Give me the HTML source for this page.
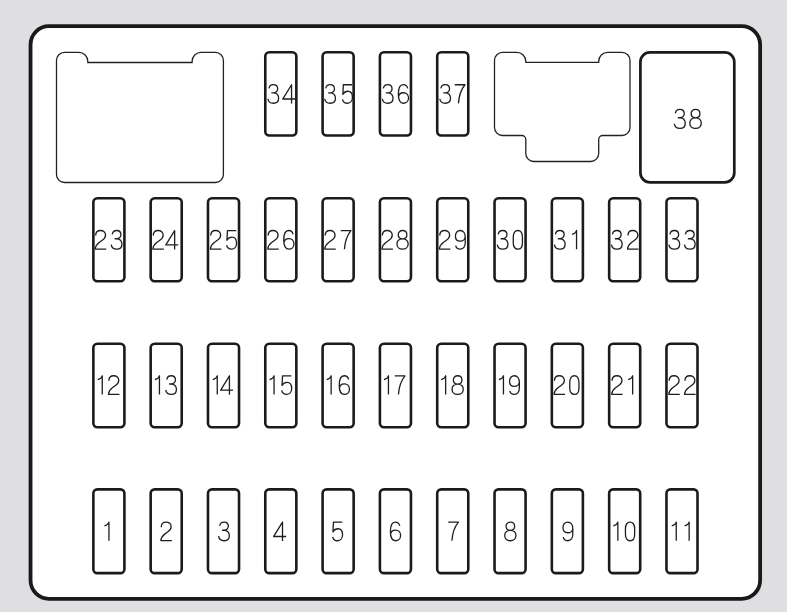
<!DOCTYPE html>
<html><head><meta charset="utf-8"><title>Fuse box</title>
<style>
html,body{margin:0;padding:0;background:#dfdfe1;width:787px;height:612px;overflow:hidden}
svg{display:block}
</style></head>
<body>
<svg width="787" height="612" viewBox="0 0 787 612" role="img" aria-label="Interior fuse box diagram, fuses 1 to 38">
<rect x="30.54" y="26.2" width="729.59" height="572.67" rx="18.5" ry="18.5" fill="#fff" stroke="#1b1a1a" stroke-width="3.8"/>
<g fill="none" stroke="#1e1e1e" stroke-width="1.3" stroke-linejoin="round">
<g aria-label="1"><title>1</title><path transform="translate(108.95 522.08) scale(1.000 1.035)" d="M-4.5 3.7C-2.4 3.1-0.4 1.9 0 0L0 18"/></g>
<g aria-label="12"><title>12</title><path transform="translate(102.25 375.79) scale(1.000 1.035)" d="M-4.5 3.7C-2.4 3.1-0.4 1.9 0 0L0 18"/><path transform="translate(113.85 375.79) scale(1.000 1.035)" d="M-5.0 4.9C-5.0 1.8-2.8 0-0.1 0C2.7 0 4.9 1.8 4.9 4.5C4.9 6.6 3.6 8.0 1.6 9.4L-1.5 11.6C-3.8 13.3-5.2 15.2-5.4 17.9L5.6 17.9"/></g>
<g aria-label="23"><title>23</title><path transform="translate(100.65 230.53) scale(1.000 1.035)" d="M-5.0 4.9C-5.0 1.8-2.8 0-0.1 0C2.7 0 4.9 1.8 4.9 4.5C4.9 6.6 3.6 8.0 1.6 9.4L-1.5 11.6C-3.8 13.3-5.2 15.2-5.4 17.9L5.6 17.9"/><path transform="translate(116.85 230.53) scale(1.000 1.035)" d="M-4.6 3.7C-4.2 1.2-2.4 0-0.1 0C2.4 0 4.1 1.6 4.1 3.9C4.1 6.3 2.3 7.9-0.2 7.9L-2.2 7.9M-0.2 7.9C3.0 7.9 5.1 10.0 5.1 13.0C5.1 16.2 2.8 18-0.1 18C-3.0 18-5.3 16.4-5.6 13.6"/></g>
<g aria-label="2"><title>2</title><path transform="translate(166.25 522.08) scale(1.000 1.035)" d="M-5.0 4.9C-5.0 1.8-2.8 0-0.1 0C2.7 0 4.9 1.8 4.9 4.5C4.9 6.6 3.6 8.0 1.6 9.4L-1.5 11.6C-3.8 13.3-5.2 15.2-5.4 17.9L5.6 17.9"/></g>
<g aria-label="13"><title>13</title><path transform="translate(159.45 375.79) scale(1.000 1.035)" d="M-4.5 3.7C-2.4 3.1-0.4 1.9 0 0L0 18"/><path transform="translate(171.35 375.79) scale(1.000 1.035)" d="M-4.6 3.7C-4.2 1.2-2.4 0-0.1 0C2.4 0 4.1 1.6 4.1 3.9C4.1 6.3 2.3 7.9-0.2 7.9L-2.2 7.9M-0.2 7.9C3.0 7.9 5.1 10.0 5.1 13.0C5.1 16.2 2.8 18-0.1 18C-3.0 18-5.3 16.4-5.6 13.6"/></g>
<g aria-label="24"><title>24</title><path transform="translate(158.25 230.53) scale(1.000 1.035)" d="M-5.0 4.9C-5.0 1.8-2.8 0-0.1 0C2.7 0 4.9 1.8 4.9 4.5C4.9 6.6 3.6 8.0 1.6 9.4L-1.5 11.6C-3.8 13.3-5.2 15.2-5.4 17.9L5.6 17.9"/><path transform="translate(172.05 230.53) scale(1.000 1.035)" d="M6.2 13.9L-6.2 13.9L2.6 0.1L2.6 18.3"/></g>
<g aria-label="3"><title>3</title><path transform="translate(224.25 522.08) scale(1.000 1.035)" d="M-4.6 3.7C-4.2 1.2-2.4 0-0.1 0C2.4 0 4.1 1.6 4.1 3.9C4.1 6.3 2.3 7.9-0.2 7.9L-2.2 7.9M-0.2 7.9C3.0 7.9 5.1 10.0 5.1 13.0C5.1 16.2 2.8 18-0.1 18C-3.0 18-5.3 16.4-5.6 13.6"/></g>
<g aria-label="14"><title>14</title><path transform="translate(217.25 375.79) scale(1.000 1.035)" d="M-4.5 3.7C-2.4 3.1-0.4 1.9 0 0L0 18"/><path transform="translate(226.85 375.79) scale(1.000 1.035)" d="M6.2 13.9L-6.2 13.9L2.6 0.1L2.6 18.3"/></g>
<g aria-label="25"><title>25</title><path transform="translate(215.75 230.53) scale(1.000 1.035)" d="M-5.0 4.9C-5.0 1.8-2.8 0-0.1 0C2.7 0 4.9 1.8 4.9 4.5C4.9 6.6 3.6 8.0 1.6 9.4L-1.5 11.6C-3.8 13.3-5.2 15.2-5.4 17.9L5.6 17.9"/><path transform="translate(231.55 230.53) scale(1.000 1.035)" d="M4.7 0.1L-4.1 0.1L-4.6 9.4C-3.5 7.5-1.7 6.4 0.4 6.4C3.2 6.4 5.0 8.8 5.0 12.2C5.0 15.8 2.8 18 0 18C-2.6 18-4.5 16.5-4.9 14.2"/></g>
<g aria-label="4"><title>4</title><path transform="translate(279.90 522.08) scale(1.000 1.035)" d="M6.2 13.9L-6.2 13.9L2.6 0.1L2.6 18.3"/></g>
<g aria-label="15"><title>15</title><path transform="translate(274.05 375.79) scale(1.000 1.035)" d="M-4.5 3.7C-2.4 3.1-0.4 1.9 0 0L0 18"/><path transform="translate(286.65 375.79) scale(1.000 1.035)" d="M4.7 0.1L-4.1 0.1L-4.6 9.4C-3.5 7.5-1.7 6.4 0.4 6.4C3.2 6.4 5.0 8.8 5.0 12.2C5.0 15.8 2.8 18 0 18C-2.6 18-4.5 16.5-4.9 14.2"/></g>
<g aria-label="26"><title>26</title><path transform="translate(273.15 230.53) scale(1.000 1.035)" d="M-5.0 4.9C-5.0 1.8-2.8 0-0.1 0C2.7 0 4.9 1.8 4.9 4.5C4.9 6.6 3.6 8.0 1.6 9.4L-1.5 11.6C-3.8 13.3-5.2 15.2-5.4 17.9L5.6 17.9"/><path transform="translate(288.75 230.53) scale(1.000 1.035)" d="M4.4 3.6C3.8 1.4 2.2 0-0.1 0C-3.4 0-5.0 3.6-5.0 9.4C-5.0 15.0-3.0 18 0 18C2.9 18 5.2 15.9 5.2 12.9C5.2 9.8 3.0 7.8 0.2 7.8C-2.6 7.8-4.9 9.6-4.9 12.8"/></g>
<g aria-label="5"><title>5</title><path transform="translate(337.55 522.08) scale(1.000 1.035)" d="M4.7 0.1L-4.1 0.1L-4.6 9.4C-3.5 7.5-1.7 6.4 0.4 6.4C3.2 6.4 5.0 8.8 5.0 12.2C5.0 15.8 2.8 18 0 18C-2.6 18-4.5 16.5-4.9 14.2"/></g>
<g aria-label="16"><title>16</title><path transform="translate(331.15 375.79) scale(1.000 1.035)" d="M-4.5 3.7C-2.4 3.1-0.4 1.9 0 0L0 18"/><path transform="translate(344.25 375.79) scale(1.000 1.035)" d="M4.4 3.6C3.8 1.4 2.2 0-0.1 0C-3.4 0-5.0 3.6-5.0 9.4C-5.0 15.0-3.0 18 0 18C2.9 18 5.2 15.9 5.2 12.9C5.2 9.8 3.0 7.8 0.2 7.8C-2.6 7.8-4.9 9.6-4.9 12.8"/></g>
<g aria-label="27"><title>27</title><path transform="translate(330.15 230.53) scale(1.000 1.035)" d="M-5.0 4.9C-5.0 1.8-2.8 0-0.1 0C2.7 0 4.9 1.8 4.9 4.5C4.9 6.6 3.6 8.0 1.6 9.4L-1.5 11.6C-3.8 13.3-5.2 15.2-5.4 17.9L5.6 17.9"/><path transform="translate(345.75 230.53) scale(1.000 1.035)" d="M-5.0 0.1L5.2 0.1C1.5 4.5-0.8 10.5-1.3 18.1"/></g>
<g aria-label="6"><title>6</title><path transform="translate(395.40 522.08) scale(1.000 1.035)" d="M4.4 3.6C3.8 1.4 2.2 0-0.1 0C-3.4 0-5.0 3.6-5.0 9.4C-5.0 15.0-3.0 18 0 18C2.9 18 5.2 15.9 5.2 12.9C5.2 9.8 3.0 7.8 0.2 7.8C-2.6 7.8-4.9 9.6-4.9 12.8"/></g>
<g aria-label="17"><title>17</title><path transform="translate(388.45 375.79) scale(1.000 1.035)" d="M-4.5 3.7C-2.4 3.1-0.4 1.9 0 0L0 18"/><path transform="translate(399.75 375.79) scale(1.000 1.035)" d="M-5.0 0.1L5.2 0.1C1.5 4.5-0.8 10.5-1.3 18.1"/></g>
<g aria-label="28"><title>28</title><path transform="translate(387.35 230.53) scale(1.000 1.035)" d="M-5.0 4.9C-5.0 1.8-2.8 0-0.1 0C2.7 0 4.9 1.8 4.9 4.5C4.9 6.6 3.6 8.0 1.6 9.4L-1.5 11.6C-3.8 13.3-5.2 15.2-5.4 17.9L5.6 17.9"/><path transform="translate(402.55 230.53) scale(1.000 1.035)" d="M0 0C2.5 0 4.3 1.7 4.3 4.0C4.3 6.4 2.5 8.0 0 8.0C-2.5 8.0-4.3 6.4-4.3 4.0C-4.3 1.7-2.5 0 0 0ZM0 8.0C3.4 8.0 5.6 10.2 5.6 13.0C5.6 16.0 3.3 18 0 18C-3.3 18-5.6 16.0-5.6 13.0C-5.6 10.2-3.4 8.0 0 8.0Z"/></g>
<g aria-label="7"><title>7</title><path transform="translate(453.20 522.08) scale(1.000 1.035)" d="M-5.0 0.1L5.2 0.1C1.5 4.5-0.8 10.5-1.3 18.1"/></g>
<g aria-label="18"><title>18</title><path transform="translate(445.65 375.79) scale(1.000 1.035)" d="M-4.5 3.7C-2.4 3.1-0.4 1.9 0 0L0 18"/><path transform="translate(457.65 375.79) scale(1.000 1.035)" d="M0 0C2.5 0 4.3 1.7 4.3 4.0C4.3 6.4 2.5 8.0 0 8.0C-2.5 8.0-4.3 6.4-4.3 4.0C-4.3 1.7-2.5 0 0 0ZM0 8.0C3.4 8.0 5.6 10.2 5.6 13.0C5.6 16.0 3.3 18 0 18C-3.3 18-5.6 16.0-5.6 13.0C-5.6 10.2-3.4 8.0 0 8.0Z"/></g>
<g aria-label="29"><title>29</title><path transform="translate(444.75 230.53) scale(1.000 1.035)" d="M-5.0 4.9C-5.0 1.8-2.8 0-0.1 0C2.7 0 4.9 1.8 4.9 4.5C4.9 6.6 3.6 8.0 1.6 9.4L-1.5 11.6C-3.8 13.3-5.2 15.2-5.4 17.9L5.6 17.9"/><path transform="translate(460.35 230.53) scale(1.000 1.035)" d="M4.9 5.6C4.9 8.4 2.7 10.3-0.1 10.3C-2.9 10.3-4.9 8.3-4.9 5.2C-4.9 2.1-2.9 0-0.1 0C3.0 0 4.9 2.4 4.9 6.5L4.9 11.6C4.9 15.6 3.0 18-0.2 18C-2.5 18-4.2 16.8-4.7 14.6"/></g>
<g aria-label="8"><title>8</title><path transform="translate(510.35 522.08) scale(1.000 1.035)" d="M0 0C2.5 0 4.3 1.7 4.3 4.0C4.3 6.4 2.5 8.0 0 8.0C-2.5 8.0-4.3 6.4-4.3 4.0C-4.3 1.7-2.5 0 0 0ZM0 8.0C3.4 8.0 5.6 10.2 5.6 13.0C5.6 16.0 3.3 18 0 18C-3.3 18-5.6 16.0-5.6 13.0C-5.6 10.2-3.4 8.0 0 8.0Z"/></g>
<g aria-label="19"><title>19</title><path transform="translate(503.45 375.79) scale(1.000 1.035)" d="M-4.5 3.7C-2.4 3.1-0.4 1.9 0 0L0 18"/><path transform="translate(514.45 375.79) scale(1.000 1.035)" d="M4.9 5.6C4.9 8.4 2.7 10.3-0.1 10.3C-2.9 10.3-4.9 8.3-4.9 5.2C-4.9 2.1-2.9 0-0.1 0C3.0 0 4.9 2.4 4.9 6.5L4.9 11.6C4.9 15.6 3.0 18-0.2 18C-2.5 18-4.2 16.8-4.7 14.6"/></g>
<g aria-label="30"><title>30</title><path transform="translate(502.85 230.53) scale(1.000 1.035)" d="M-4.6 3.7C-4.2 1.2-2.4 0-0.1 0C2.4 0 4.1 1.6 4.1 3.9C4.1 6.3 2.3 7.9-0.2 7.9L-2.2 7.9M-0.2 7.9C3.0 7.9 5.1 10.0 5.1 13.0C5.1 16.2 2.8 18-0.1 18C-3.0 18-5.3 16.4-5.6 13.6"/><path transform="translate(517.85 230.53) scale(1.000 1.035)" d="M-4.6 6.3C-4.6 2.2-2.7 0 0 0C2.7 0 4.6 2.2 4.6 6.3L4.6 11.7C4.6 15.8 2.7 18 0 18C-2.7 18-4.6 15.8-4.6 11.7Z"/></g>
<g aria-label="9"><title>9</title><path transform="translate(567.90 522.08) scale(1.000 1.035)" d="M4.9 5.6C4.9 8.4 2.7 10.3-0.1 10.3C-2.9 10.3-4.9 8.3-4.9 5.2C-4.9 2.1-2.9 0-0.1 0C3.0 0 4.9 2.4 4.9 6.5L4.9 11.6C4.9 15.6 3.0 18-0.2 18C-2.5 18-4.2 16.8-4.7 14.6"/></g>
<g aria-label="20"><title>20</title><path transform="translate(559.45 375.79) scale(1.000 1.035)" d="M-5.0 4.9C-5.0 1.8-2.8 0-0.1 0C2.7 0 4.9 1.8 4.9 4.5C4.9 6.6 3.6 8.0 1.6 9.4L-1.5 11.6C-3.8 13.3-5.2 15.2-5.4 17.9L5.6 17.9"/><path transform="translate(574.35 375.79) scale(1.000 1.035)" d="M-4.6 6.3C-4.6 2.2-2.7 0 0 0C2.7 0 4.6 2.2 4.6 6.3L4.6 11.7C4.6 15.8 2.7 18 0 18C-2.7 18-4.6 15.8-4.6 11.7Z"/></g>
<g aria-label="31"><title>31</title><path transform="translate(560.05 230.53) scale(1.000 1.035)" d="M-4.6 3.7C-4.2 1.2-2.4 0-0.1 0C2.4 0 4.1 1.6 4.1 3.9C4.1 6.3 2.3 7.9-0.2 7.9L-2.2 7.9M-0.2 7.9C3.0 7.9 5.1 10.0 5.1 13.0C5.1 16.2 2.8 18-0.1 18C-3.0 18-5.3 16.4-5.6 13.6"/><path transform="translate(576.55 230.53) scale(1.000 1.035)" d="M-4.5 3.7C-2.4 3.1-0.4 1.9 0 0L0 18"/></g>
<g aria-label="10"><title>10</title><path transform="translate(617.85 522.08) scale(1.000 1.035)" d="M-4.5 3.7C-2.4 3.1-0.4 1.9 0 0L0 18"/><path transform="translate(630.05 522.08) scale(1.000 1.035)" d="M-4.6 6.3C-4.6 2.2-2.7 0 0 0C2.7 0 4.6 2.2 4.6 6.3L4.6 11.7C4.6 15.8 2.7 18 0 18C-2.7 18-4.6 15.8-4.6 11.7Z"/></g>
<g aria-label="21"><title>21</title><path transform="translate(617.05 375.79) scale(1.000 1.035)" d="M-5.0 4.9C-5.0 1.8-2.8 0-0.1 0C2.7 0 4.9 1.8 4.9 4.5C4.9 6.6 3.6 8.0 1.6 9.4L-1.5 11.6C-3.8 13.3-5.2 15.2-5.4 17.9L5.6 17.9"/><path transform="translate(632.65 375.79) scale(1.000 1.035)" d="M-4.5 3.7C-2.4 3.1-0.4 1.9 0 0L0 18"/></g>
<g aria-label="32"><title>32</title><path transform="translate(617.05 230.53) scale(1.000 1.035)" d="M-4.6 3.7C-4.2 1.2-2.4 0-0.1 0C2.4 0 4.1 1.6 4.1 3.9C4.1 6.3 2.3 7.9-0.2 7.9L-2.2 7.9M-0.2 7.9C3.0 7.9 5.1 10.0 5.1 13.0C5.1 16.2 2.8 18-0.1 18C-3.0 18-5.3 16.4-5.6 13.6"/><path transform="translate(632.95 230.53) scale(1.000 1.035)" d="M-5.0 4.9C-5.0 1.8-2.8 0-0.1 0C2.7 0 4.9 1.8 4.9 4.5C4.9 6.6 3.6 8.0 1.6 9.4L-1.5 11.6C-3.8 13.3-5.2 15.2-5.4 17.9L5.6 17.9"/></g>
<g aria-label="11"><title>11</title><path transform="translate(676.25 522.08) scale(1.000 1.035)" d="M-4.5 3.7C-2.4 3.1-0.4 1.9 0 0L0 18"/><path transform="translate(689.15 522.08) scale(1.000 1.035)" d="M-4.5 3.7C-2.4 3.1-0.4 1.9 0 0L0 18"/></g>
<g aria-label="22"><title>22</title><path transform="translate(674.15 375.79) scale(1.000 1.035)" d="M-5.0 4.9C-5.0 1.8-2.8 0-0.1 0C2.7 0 4.9 1.8 4.9 4.5C4.9 6.6 3.6 8.0 1.6 9.4L-1.5 11.6C-3.8 13.3-5.2 15.2-5.4 17.9L5.6 17.9"/><path transform="translate(689.95 375.79) scale(1.000 1.035)" d="M-5.0 4.9C-5.0 1.8-2.8 0-0.1 0C2.7 0 4.9 1.8 4.9 4.5C4.9 6.6 3.6 8.0 1.6 9.4L-1.5 11.6C-3.8 13.3-5.2 15.2-5.4 17.9L5.6 17.9"/></g>
<g aria-label="33"><title>33</title><path transform="translate(674.55 230.53) scale(1.000 1.035)" d="M-4.6 3.7C-4.2 1.2-2.4 0-0.1 0C2.4 0 4.1 1.6 4.1 3.9C4.1 6.3 2.3 7.9-0.2 7.9L-2.2 7.9M-0.2 7.9C3.0 7.9 5.1 10.0 5.1 13.0C5.1 16.2 2.8 18-0.1 18C-3.0 18-5.3 16.4-5.6 13.6"/><path transform="translate(690.05 230.53) scale(1.000 1.035)" d="M-4.6 3.7C-4.2 1.2-2.4 0-0.1 0C2.4 0 4.1 1.6 4.1 3.9C4.1 6.3 2.3 7.9-0.2 7.9L-2.2 7.9M-0.2 7.9C3.0 7.9 5.1 10.0 5.1 13.0C5.1 16.2 2.8 18-0.1 18C-3.0 18-5.3 16.4-5.6 13.6"/></g>
<g aria-label="34"><title>34</title><path transform="translate(273.55 84.64) scale(1.000 1.035)" d="M-4.6 3.7C-4.2 1.2-2.4 0-0.1 0C2.4 0 4.1 1.6 4.1 3.9C4.1 6.3 2.3 7.9-0.2 7.9L-2.2 7.9M-0.2 7.9C3.0 7.9 5.1 10.0 5.1 13.0C5.1 16.2 2.8 18-0.1 18C-3.0 18-5.3 16.4-5.6 13.6"/><path transform="translate(288.95 84.64) scale(1.000 1.035)" d="M6.2 13.9L-6.2 13.9L2.6 0.1L2.6 18.3"/></g>
<g aria-label="35"><title>35</title><path transform="translate(330.35 84.64) scale(1.000 1.035)" d="M-4.6 3.7C-4.2 1.2-2.4 0-0.1 0C2.4 0 4.1 1.6 4.1 3.9C4.1 6.3 2.3 7.9-0.2 7.9L-2.2 7.9M-0.2 7.9C3.0 7.9 5.1 10.0 5.1 13.0C5.1 16.2 2.8 18-0.1 18C-3.0 18-5.3 16.4-5.6 13.6"/><path transform="translate(347.45 84.64) scale(1.000 1.035)" d="M4.7 0.1L-4.1 0.1L-4.6 9.4C-3.5 7.5-1.7 6.4 0.4 6.4C3.2 6.4 5.0 8.8 5.0 12.2C5.0 15.8 2.8 18 0 18C-2.6 18-4.5 16.5-4.9 14.2"/></g>
<g aria-label="36"><title>36</title><path transform="translate(387.95 84.64) scale(1.000 1.035)" d="M-4.6 3.7C-4.2 1.2-2.4 0-0.1 0C2.4 0 4.1 1.6 4.1 3.9C4.1 6.3 2.3 7.9-0.2 7.9L-2.2 7.9M-0.2 7.9C3.0 7.9 5.1 10.0 5.1 13.0C5.1 16.2 2.8 18-0.1 18C-3.0 18-5.3 16.4-5.6 13.6"/><path transform="translate(403.35 84.64) scale(1.000 1.035)" d="M4.4 3.6C3.8 1.4 2.2 0-0.1 0C-3.4 0-5.0 3.6-5.0 9.4C-5.0 15.0-3.0 18 0 18C2.9 18 5.2 15.9 5.2 12.9C5.2 9.8 3.0 7.8 0.2 7.8C-2.6 7.8-4.9 9.6-4.9 12.8"/></g>
<g aria-label="37"><title>37</title><path transform="translate(445.45 84.64) scale(1.000 1.035)" d="M-4.6 3.7C-4.2 1.2-2.4 0-0.1 0C2.4 0 4.1 1.6 4.1 3.9C4.1 6.3 2.3 7.9-0.2 7.9L-2.2 7.9M-0.2 7.9C3.0 7.9 5.1 10.0 5.1 13.0C5.1 16.2 2.8 18-0.1 18C-3.0 18-5.3 16.4-5.6 13.6"/><path transform="translate(459.75 84.64) scale(1.000 1.035)" d="M-5.0 0.1L5.2 0.1C1.5 4.5-0.8 10.5-1.3 18.1"/></g>
<g aria-label="38"><title>38</title><path transform="translate(680.06 109.40) scale(1.020 1.056)" d="M-4.6 3.7C-4.2 1.2-2.4 0-0.1 0C2.4 0 4.1 1.6 4.1 3.9C4.1 6.3 2.3 7.9-0.2 7.9L-2.2 7.9M-0.2 7.9C3.0 7.9 5.1 10.0 5.1 13.0C5.1 16.2 2.8 18-0.1 18C-3.0 18-5.3 16.4-5.6 13.6"/><path transform="translate(695.54 109.40) scale(1.020 1.056)" d="M0 0C2.5 0 4.3 1.7 4.3 4.0C4.3 6.4 2.5 8.0 0 8.0C-2.5 8.0-4.3 6.4-4.3 4.0C-4.3 1.7-2.5 0 0 0ZM0 8.0C3.4 8.0 5.6 10.2 5.6 13.0C5.6 16.0 3.3 18 0 18C-3.3 18-5.6 16.0-5.6 13.0C-5.6 10.2-3.4 8.0 0 8.0Z"/></g>
</g>
<g fill="none" stroke="#222" stroke-width="1.3">
<path d="M56.5 60.4A8 8 0 0 1 64.5 52.4L78.8 52.4A9 9 0 0 1 87.8 61.4L87.8 62.5L192.1 62.5L192.1 61.4A9 9 0 0 1 201.1 52.4L215.4 52.4A8 8 0 0 1 223.4 60.4L223.4 174.5A8 8 0 0 1 215.4 182.5L64.5 182.5A8 8 0 0 1 56.5 174.5Z"/>
<path d="M494.5 60.4A8 8 0 0 1 502.5 52.4L516.8 52.4A9 9 0 0 1 525.8 61.4L525.8 62.4L598.7 62.4L598.7 61.4A9 9 0 0 1 607.7 52.4L622 52.4A8 8 0 0 1 630 60.4L630 127.5A8 8 0 0 1 622 135.5L602.7 135.5A4 4 0 0 0 598.7 139.5L598.7 153.5A8 8 0 0 1 590.7 161.5L533.8 161.5A8 8 0 0 1 525.8 153.5L525.8 139.5A4 4 0 0 0 521.8 135.5L502.5 135.5A8 8 0 0 1 494.5 127.5Z"/>
</g>
<g fill="none" stroke="#1b1b1b" stroke-width="2.6">
<rect x="93.36" y="489.36" width="31.05" height="83.80" rx="4.0" ry="4.0"/>
<rect x="93.36" y="343.76" width="31.05" height="83.55" rx="4.0" ry="4.0"/>
<rect x="93.36" y="198.25" width="31.05" height="83.06" rx="4.0" ry="4.0"/>
<rect x="150.67" y="489.36" width="31.05" height="83.80" rx="4.0" ry="4.0"/>
<rect x="150.67" y="343.76" width="31.05" height="83.55" rx="4.0" ry="4.0"/>
<rect x="150.67" y="198.25" width="31.05" height="83.06" rx="4.0" ry="4.0"/>
<rect x="207.98" y="489.36" width="31.05" height="83.80" rx="4.0" ry="4.0"/>
<rect x="207.98" y="343.76" width="31.05" height="83.55" rx="4.0" ry="4.0"/>
<rect x="207.98" y="198.25" width="31.05" height="83.06" rx="4.0" ry="4.0"/>
<rect x="265.29" y="489.36" width="31.05" height="83.80" rx="4.0" ry="4.0"/>
<rect x="265.29" y="343.76" width="31.05" height="83.55" rx="4.0" ry="4.0"/>
<rect x="265.29" y="198.25" width="31.05" height="83.06" rx="4.0" ry="4.0"/>
<rect x="322.60" y="489.36" width="31.05" height="83.80" rx="4.0" ry="4.0"/>
<rect x="322.60" y="343.76" width="31.05" height="83.55" rx="4.0" ry="4.0"/>
<rect x="322.60" y="198.25" width="31.05" height="83.06" rx="4.0" ry="4.0"/>
<rect x="379.91" y="489.36" width="31.05" height="83.80" rx="4.0" ry="4.0"/>
<rect x="379.91" y="343.76" width="31.05" height="83.55" rx="4.0" ry="4.0"/>
<rect x="379.91" y="198.25" width="31.05" height="83.06" rx="4.0" ry="4.0"/>
<rect x="437.22" y="489.36" width="31.05" height="83.80" rx="4.0" ry="4.0"/>
<rect x="437.22" y="343.76" width="31.05" height="83.55" rx="4.0" ry="4.0"/>
<rect x="437.22" y="198.25" width="31.05" height="83.06" rx="4.0" ry="4.0"/>
<rect x="494.53" y="489.36" width="31.05" height="83.80" rx="4.0" ry="4.0"/>
<rect x="494.53" y="343.76" width="31.05" height="83.55" rx="4.0" ry="4.0"/>
<rect x="494.53" y="198.25" width="31.05" height="83.06" rx="4.0" ry="4.0"/>
<rect x="551.84" y="489.36" width="31.05" height="83.80" rx="4.0" ry="4.0"/>
<rect x="551.84" y="343.76" width="31.05" height="83.55" rx="4.0" ry="4.0"/>
<rect x="551.84" y="198.25" width="31.05" height="83.06" rx="4.0" ry="4.0"/>
<rect x="609.15" y="489.36" width="31.05" height="83.80" rx="4.0" ry="4.0"/>
<rect x="609.15" y="343.76" width="31.05" height="83.55" rx="4.0" ry="4.0"/>
<rect x="609.15" y="198.25" width="31.05" height="83.06" rx="4.0" ry="4.0"/>
<rect x="666.46" y="489.36" width="31.05" height="83.80" rx="4.0" ry="4.0"/>
<rect x="666.46" y="343.76" width="31.05" height="83.55" rx="4.0" ry="4.0"/>
<rect x="666.46" y="198.25" width="31.05" height="83.06" rx="4.0" ry="4.0"/>
<rect x="265.29" y="52.29" width="31.05" height="83.19" rx="4.0" ry="4.0"/>
<rect x="322.60" y="52.29" width="31.05" height="83.19" rx="4.0" ry="4.0"/>
<rect x="379.91" y="52.29" width="31.05" height="83.19" rx="4.0" ry="4.0"/>
<rect x="437.22" y="52.29" width="31.05" height="83.19" rx="4.0" ry="4.0"/>
</g>
<rect x="640.4" y="52.4" width="93.9" height="129.9" rx="9.5" ry="9.5" fill="none" stroke="#1b1b1b" stroke-width="2.7"/>
</svg>
</body></html>
